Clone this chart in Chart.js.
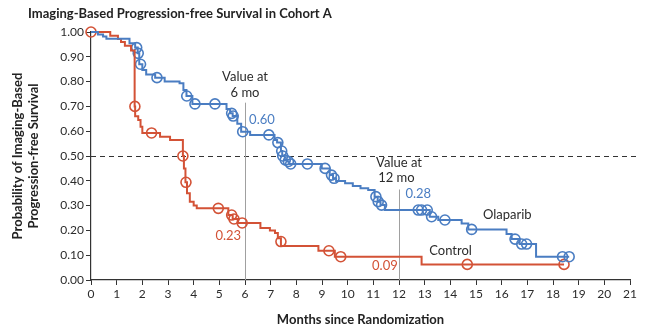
<!DOCTYPE html>
<html>
<head>
<meta charset="utf-8">
<script src="https://cdn.jsdelivr.net/npm/chart.js"></script>
<style>
  html, body { margin: 0; padding: 0; background: #fff; }
  #wrap { width: 660px; height: 334px; }
</style>
</head>
<body>
<div id="wrap"><canvas id="pfsChart" width="660" height="334"></canvas></div>
<script>
// Kaplan-Meier steps: month of each event and survival after it
const olaparibTime = [0, 0.27, 0.47, 0.60, 1.50, 1.72, 1.82, 1.88, 2.00, 2.15, 2.50, 2.87, 3.45, 3.60, 3.72, 3.95, 5.28, 5.42, 5.52, 5.70, 5.85, 6.20, 7.15, 7.25, 7.40, 7.45, 7.55, 7.65, 7.72, 8.99, 9.30, 9.43, 9.55, 9.90, 10.20, 10.50, 10.80, 11.05, 11.17, 11.28, 11.45, 13.20, 13.53, 14.44, 14.70, 16.19, 16.39, 16.70, 17.34, 18.63];
const olaparibSurv = [1.00, 0.990, 0.982, 0.973, 0.955, 0.937, 0.914, 0.870, 0.847, 0.829, 0.816, 0.800, 0.793, 0.766, 0.742, 0.710, 0.690, 0.672, 0.661, 0.630, 0.598, 0.585, 0.565, 0.554, 0.520, 0.500, 0.484, 0.478, 0.468, 0.450, 0.423, 0.410, 0.399, 0.390, 0.379, 0.370, 0.363, 0.336, 0.316, 0.302, 0.282, 0.255, 0.242, 0.228, 0.204, 0.185, 0.165, 0.145, 0.094, 0.094];

const controlTime = [0, 0.75, 1.05, 1.17, 1.32, 1.56, 1.70, 1.72, 1.84, 1.93, 2.00, 2.69, 3.08, 3.58, 3.62, 3.68, 3.74, 3.85, 4.00, 4.12, 5.35, 5.52, 5.72, 6.60, 6.97, 7.17, 7.28, 7.40, 8.86, 9.50, 12.88, 18.43];
const controlSurv = [1.00, 0.985, 0.972, 0.960, 0.945, 0.925, 0.700, 0.660, 0.645, 0.618, 0.593, 0.578, 0.565, 0.500, 0.450, 0.394, 0.350, 0.316, 0.300, 0.289, 0.262, 0.246, 0.230, 0.210, 0.200, 0.190, 0.168, 0.137, 0.118, 0.094, 0.063, 0.063];

// censored patients (tick circles)
const olaparibCensorTime = [1.78, 1.84, 1.93, 2.57, 3.73, 4.05, 4.83, 5.48, 5.54, 5.91, 6.93, 7.28, 7.43, 7.47, 7.57, 7.69, 7.78, 8.43, 9.12, 9.37, 9.47, 11.10, 11.19, 11.32, 12.75, 12.88, 13.10, 13.27, 13.79, 14.83, 16.52, 16.78, 16.97, 18.37, 18.63];
const olaparibCensorSurv = [0.937, 0.914, 0.870, 0.816, 0.742, 0.710, 0.710, 0.672, 0.661, 0.598, 0.585, 0.554, 0.520, 0.500, 0.484, 0.478, 0.468, 0.468, 0.450, 0.423, 0.410, 0.336, 0.316, 0.302, 0.282, 0.282, 0.282, 0.255, 0.242, 0.204, 0.165, 0.145, 0.145, 0.094, 0.094];

const controlCensorTime = [0, 1.71, 2.36, 3.58, 3.70, 4.96, 5.48, 5.57, 5.89, 7.40, 9.27, 9.73, 14.66, 18.43];
const controlCensorSurv = [1.00, 0.700, 0.593, 0.500, 0.394, 0.289, 0.262, 0.246, 0.230, 0.155, 0.118, 0.094, 0.063, 0.063];

// landmark months, how far up their guide lines go, and the values printed there
const landmarkMonths = [6, 12];
const landmarkTop = [0.715, 0.365];
const olaparibAtLandmark = [0.60, 0.28];
const controlAtLandmark = [0.23, 0.09];
const medianLevel = 0.5;

const blue = '#4a7dc2';
const red = '#d35236';
const ink = '#2b2b2b';
const fontFamily = 'Lato, "Open Sans", sans-serif';

const toPoints = (xs, ys) => xs.map((x, i) => ({ x, y: ys[i] }));

const stepLine = (label, xs, ys, color) => ({
    label,
    data: toPoints(xs, ys),
    borderColor: color,
    borderWidth: 2,
    stepped: 'before',
    showLine: true,
    pointRadius: 0,
    fill: false,
    clip: false
});

const censorMarks = (label, xs, ys, color) => ({
    label,
    data: toPoints(xs, ys),
    showLine: false,
    pointStyle: 'circle',
    pointRadius: 5,
    pointBorderWidth: 1.6,
    borderColor: color,
    backgroundColor: 'rgba(255,255,255,0)',
    clip: false
});

// guide lines and in-plot labels
const notesPlugin = {
    id: 'notes',
    beforeDatasetsDraw(chart) {
        const { ctx, chartArea, scales: { x, y } } = chart;
        ctx.save();
        ctx.strokeStyle = '#333';
        ctx.lineWidth = 1.2;
        ctx.setLineDash([5, 4]);
        let ym = Math.round(y.getPixelForValue(medianLevel)) + 0.5;
        ctx.beginPath();
        ctx.moveTo(chartArea.left, ym);
        ctx.lineTo(chartArea.right + 6, ym);
        ctx.stroke();

        ctx.setLineDash([]);
        ctx.strokeStyle = '#a0a0a0';
        ctx.lineWidth = 1;
        landmarkMonths.forEach((m, i) => {
            let xp = Math.round(x.getPixelForValue(m)) + 0.5;
            ctx.beginPath();
            ctx.moveTo(xp, y.getPixelForValue(landmarkTop[i]));
            ctx.lineTo(xp, y.getPixelForValue(0));
            ctx.stroke();
        });
        ctx.restore();
    },
    afterDatasetsDraw(chart) {
        const { ctx, scales: { x, y } } = chart;
        const put = (text, mx, sy, color, align) => {
            ctx.fillStyle = color;
            ctx.textAlign = align;
            ctx.fillText(text, x.getPixelForValue(mx), y.getPixelForValue(sy));
        };
        ctx.save();
        ctx.font = '13px ' + fontFamily;
        ctx.textBaseline = 'middle';

        put('Value at', 6, 0.82, ink, 'center');
        put('6 mo', 6, 0.755, ink, 'center');
        put('Value at', 12, 0.473, ink, 'center');
        put('12 mo', 11.9, 0.414, ink, 'center');

        put(olaparibAtLandmark[0].toFixed(2), 6.16, 0.645, blue, 'left');
        put(olaparibAtLandmark[1].toFixed(2), 12.25, 0.347, blue, 'left');
        put(controlAtLandmark[0].toFixed(2), 5.85, 0.177, red, 'right');
        put(controlAtLandmark[1].toFixed(2), 11.95, 0.056, red, 'right');

        put('Olaparib', 15.27, 0.262, ink, 'left');
        put('Control', 13.18, 0.117, ink, 'left');

        // chart heading, squeezed slightly to keep its width
        ctx.font = 'bold 14px ' + fontFamily;
        ctx.fillStyle = '#222';
        ctx.textAlign = 'left';
        ctx.translate(28, 13);
        ctx.scale(0.93, 1);
        ctx.fillText('Imaging-Based Progression-free Survival in Cohort A', 0, 0);
        ctx.restore();
    }
};

new Chart(document.getElementById('pfsChart'), {
    type: 'scatter',
    data: {
        datasets: [
            stepLine('Olaparib', olaparibTime, olaparibSurv, blue),
            stepLine('Control', controlTime, controlSurv, red),
            censorMarks('Olaparib censored', olaparibCensorTime, olaparibCensorSurv, blue),
            censorMarks('Control censored', controlCensorTime, controlCensorSurv, red)
        ]
    },
    options: {
        responsive: false,
        animation: false,
        layout: { padding: { top: 32, right: 30, left: 0, bottom: 0 } },
        plugins: {
            legend: { display: false },
            tooltip: { enabled: false }
        },
        scales: {
            x: {
                type: 'linear',
                min: 0,
                max: 21,
                afterFit: (scale) => { scale.height = 54; },
                ticks: {
                    stepSize: 1,
                    padding: 2,
                    color: ink,
                    font: { family: fontFamily, size: 12 }
                },
                grid: { drawOnChartArea: false, tickLength: 5, color: '#333' },
                border: { color: '#333', width: 1.2 },
                title: {
                    display: true,
                    text: 'Months since Randomization',
                    color: '#222',
                    padding: { top: 0, bottom: 6 },
                    font: { family: fontFamily, size: 13, weight: 'bold' }
                }
            },
            y: {
                min: 0,
                max: 1,
                afterFit: (scale) => { scale.width = 91; },
                ticks: {
                    stepSize: 0.1,
                    padding: 2,
                    color: ink,
                    font: { family: fontFamily, size: 12 },
                    callback: (v) => v.toFixed(2)
                },
                grid: { drawOnChartArea: false, tickLength: 5, color: '#333' },
                border: { color: '#333', width: 1.2 },
                title: {
                    display: true,
                    text: ['Probability of Imaging-Based', 'Progression-free Survival'],
                    color: '#222',
                    padding: { top: 10, bottom: 0 },
                    font: { family: fontFamily, size: 13, weight: 'bold' }
                }
            }
        }
    },
    plugins: [notesPlugin]
});
</script>
</body>
</html>
